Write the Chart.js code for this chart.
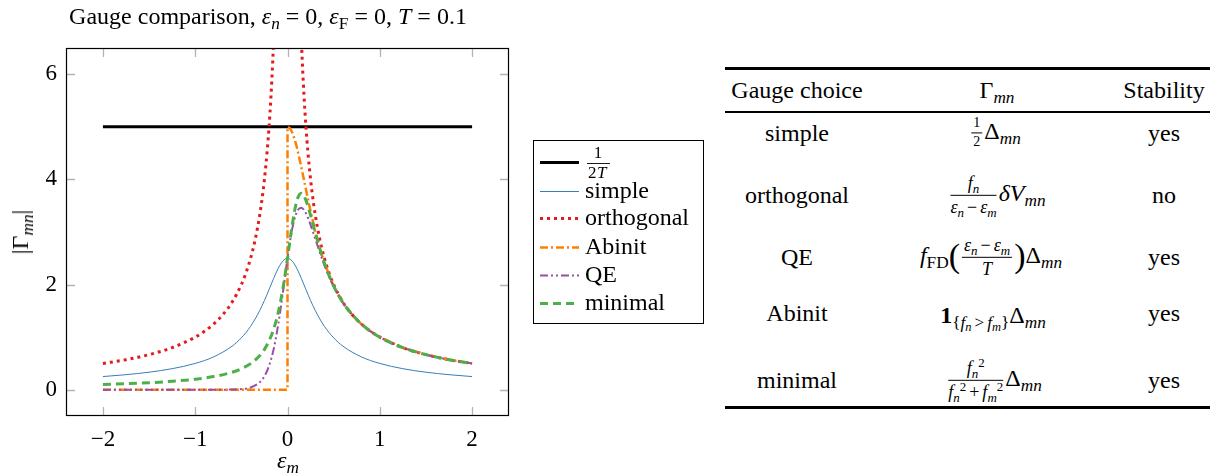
<!DOCTYPE html>
<html>
<head>
<meta charset="utf-8">
<script src="https://cdn.jsdelivr.net/npm/chart.js@4.4.1/dist/chart.umd.min.js"></script>
<style>
  body { margin: 0; background: #fff; font-family: "Liberation Serif", serif; color: #000; }
  #wrap { position: relative; width: 1219px; height: 474px; overflow: hidden; }
  #c { position: absolute; left: 0; top: 0; }
  .t { position: absolute; white-space: nowrap; font-size: 24px; line-height: 1; }
  .c { transform: translate(-50%, -50%); }
  sub { font-size: 0.72em; vertical-align: -0.3em; line-height: 0; }
  sup { font-size: 0.72em; vertical-align: 0.5em; line-height: 0; }
  .frac { display: inline-flex; flex-direction: column; vertical-align: middle; text-align: center; font-size: 18px; line-height: 1.15; margin: 0 2px; }
  .frac > span:first-child { border-bottom: 1px solid #000; padding: 0 2px 1px; }
  .frac > span:last-child { padding-top: 1px; }
  .op { margin: 0 3px; }
  .big { font-size: 34px; vertical-align: -4px; }
  .rule { position: absolute; left: 725px; width: 485px; background: #000; }
</style>
</head>
<body>
<div id="wrap">
  <canvas id="c" width="720" height="474"></canvas>

  <div class="t c" style="left:268px; top:16px;">Gauge comparison, <i>ε</i><sub><i>n</i></sub> = 0, <i>ε</i><sub>F</sub> = 0, <i>T</i> = 0.1</div>
  <div class="t c" style="left:288px; top:460px;"><i>ε</i><sub><i>m</i></sub></div>
  <div class="t c" style="left:20px; top:232px; transform: translate(-50%, -50%) rotate(-90deg);">|Γ<sub><i>mn</i></sub>|</div>

  <div class="rule" style="top:67px; height:2.5px;"></div>
  <div class="rule" style="top:111px; height:1.5px;"></div>
  <div class="rule" style="top:406px; height:2.5px;"></div>

  <div class="t c" style="left:797px; top:90px;">Gauge choice</div>
  <div class="t c" style="left:997px; top:90px;">Γ<sub><i>mn</i></sub></div>
  <div class="t c" style="left:1164px; top:90px;">Stability</div>

  <div class="t c" style="left:797px; top:133px;">simple</div>
  <div class="t c" style="left:995px; top:133px;"><span class="frac" style="font-size:14px"><span>1</span><span>2</span></span>Δ<sub><i>mn</i></sub></div>
  <div class="t c" style="left:1164px; top:133px;">yes</div>

  <div class="t c" style="left:797px; top:195px;">orthogonal</div>
  <div class="t c" style="left:997px; top:195px;"><span class="frac"><span><i>f</i><sub><i>n</i></sub></span><span><i>ε</i><sub><i>n</i></sub><span class="op">−</span><i>ε</i><sub><i>m</i></sub></span></span><i>δV</i><sub><i>mn</i></sub></div>
  <div class="t c" style="left:1164px; top:195px;">no</div>

  <div class="t c" style="left:797px; top:257px;">QE</div>
  <div class="t c" style="left:991px; top:257px;"><i>f</i><sub>FD</sub><span class="big">(</span><span class="frac"><span><i>ε</i><sub><i>n</i></sub><span class="op">−</span><i>ε</i><sub><i>m</i></sub></span><span><i>T</i></span></span><span class="big">)</span>Δ<sub><i>mn</i></sub></div>
  <div class="t c" style="left:1164px; top:257px;">yes</div>

  <div class="t c" style="left:797px; top:313px;">Abinit</div>
  <div class="t c" style="left:993px; top:315px;"><b>1</b><sub>{<i>f</i><sub><i>n</i></sub><span class="op">&gt;</span><i>f</i><sub><i>m</i></sub>}</sub>Δ<sub><i>mn</i></sub></div>
  <div class="t c" style="left:1164px; top:313px;">yes</div>

  <div class="t c" style="left:797px; top:380px;">minimal</div>
  <div class="t c" style="left:994px; top:380px;"><span class="frac"><span><i>f</i><sub><i>n</i></sub><sup>2</sup></span><span><i>f</i><sub><i>n</i></sub><sup>2</sup><span class="op">+</span><i>f</i><sub><i>m</i></sub><sup>2</sup></span></span>Δ<sub><i>mn</i></sub></div>
  <div class="t c" style="left:1164px; top:380px;">yes</div>
</div>

<script>
// axis ticks
const xTicks = [-2, -1, 0, 1, 2];
const yTicks = [0, 2, 4, 6];

// energies eps_m shared by the smooth curves
const epsGrid = [-2, -1.75, -1.5, -1.25, -1, -0.8, -0.6, -0.5, -0.4, -0.3, -0.25, -0.2, -0.15, -0.1, -0.05,
                 0, 0.05, 0.1, 0.15, 0.2, 0.25, 0.3, 0.4, 0.5, 0.6, 0.8, 1, 1.25, 1.5, 1.75, 2];

const simpleVals = [0.25, 0.286, 0.333, 0.4, 0.5, 0.625, 0.829, 0.987, 1.205, 1.509, 1.697, 1.904, 2.117, 2.311, 2.449,
                    2.5, 2.449, 2.311, 2.117, 1.904, 1.697, 1.509, 1.205, 0.987, 0.829, 0.625, 0.5, 0.4, 0.333, 0.286, 0.25];
const qeVals = [0, 0, 0, 0, 0, 0.0004, 0.004, 0.013, 0.043, 0.143, 0.257, 0.454, 0.772, 1.243, 1.849,
                2.5, 3.049, 3.378, 3.462, 3.354, 3.136, 2.874, 2.367, 1.96, 1.655, 1.249, 1.0, 0.8, 0.667, 0.571, 0.5];
const minimalVals = [0.1, 0.114, 0.133, 0.16, 0.2, 0.25, 0.333, 0.399, 0.496, 0.652, 0.768, 0.928, 1.152, 1.473, 1.921,
                     2.5, 3.12, 3.585, 3.737, 3.603, 3.317, 2.99, 2.407, 1.973, 1.659, 1.249, 1.0, 0.8, 0.667, 0.571, 0.5];

const abinitX = [-2, -1, 0, 0, 0.025, 0.05, 0.075, 0.1, 0.15, 0.2, 0.25, 0.3, 0.35, 0.4, 0.5, 0.6, 0.7, 0.8, 0.9, 1, 1.25, 1.5, 1.75, 2];
const abinitVals = [0, 0, 0, 5, 4.974, 4.898, 4.778, 4.621, 4.234, 3.808, 3.393, 3.017, 2.69, 2.41, 1.973, 1.659, 1.426, 1.249, 1.111, 1.0, 0.8, 0.667, 0.571, 0.5];

const orthoX = [-2, -1.75, -1.5, -1.25, -1, -0.9, -0.8, -0.7, -0.6, -0.5, -0.45, -0.4, -0.35, -0.3, -0.27, -0.25, -0.22, -0.2, -0.18, -0.16, -0.14, -0.12,
                0, 0.12, 0.14, 0.16, 0.18, 0.2, 0.22, 0.25, 0.27, 0.3, 0.35, 0.4, 0.45, 0.5, 0.6, 0.7, 0.8, 0.9, 1, 1.25, 1.5, 1.75, 2];
const orthoVals = [0.5, 0.571, 0.667, 0.8, 1, 1.111, 1.25, 1.429, 1.667, 2, 2.222, 2.5, 2.857, 3.333, 3.704, 4, 4.545, 5, 5.556, 6.25, 7.143, 8.333,
                   null, 8.333, 7.143, 6.25, 5.556, 5, 4.545, 4, 3.704, 3.333, 2.857, 2.5, 2.222, 2, 1.667, 1.429, 1.25, 1.111, 1, 0.8, 0.667, 0.571, 0.5];

const halfTX = [-2, 2];
const halfTVals = [5, 5];

function pts(xs, ys) {
    return xs.map((x, i) => ({ x: x, y: ys[i] }));
}

const serif = '"Liberation Serif", serif';

const datasets = [
    { label: '1/2T', data: pts(halfTX, halfTVals), borderColor: '#000000', borderWidth: 3, order: 6 },
    { label: 'simple', data: pts(epsGrid, simpleVals), borderColor: '#377eb8', borderWidth: 1, order: 5, cubicInterpolationMode: 'monotone' },
    { label: 'orthogonal', data: pts(orthoX, orthoVals), borderColor: '#e41a1c', borderWidth: 3, borderDash: [3, 4], order: 4, cubicInterpolationMode: 'monotone' },
    { label: 'Abinit', data: pts(abinitX, abinitVals), borderColor: '#ff7f00', borderWidth: 2.5, borderDash: [8, 3, 2, 3], order: 3, tension: 0 },
    { label: 'QE', data: pts(epsGrid, qeVals), borderColor: '#984ea3', borderWidth: 2, borderDash: [8, 3, 2, 3, 2, 3], order: 2, cubicInterpolationMode: 'monotone' },
    { label: 'minimal', data: pts(epsGrid, minimalVals), borderColor: '#4daf4a', borderWidth: 3, borderDash: [8, 5], order: 1, cubicInterpolationMode: 'monotone' }
];
datasets.forEach(d => { d.pointRadius = 0; d.fill = false; d.spanGaps = false; });

// inward grey ticks on all four sides plus the black frame
const framePlugin = {
    id: 'frame',
    afterDatasetsDraw(chart) {
        const { ctx, chartArea: a, scales } = chart;
        ctx.save();
        ctx.strokeStyle = '#b3b3b3';
        ctx.lineWidth = 1.3;
        ctx.setLineDash([]);
        ctx.beginPath();
        xTicks.forEach(v => {
            const px = Math.round(scales.x.getPixelForValue(v)) + 0.5;
            ctx.moveTo(px, a.bottom); ctx.lineTo(px, a.bottom - 9);
            ctx.moveTo(px, a.top); ctx.lineTo(px, a.top + 9);
        });
        yTicks.forEach(v => {
            const py = Math.round(scales.y.getPixelForValue(v)) + 0.5;
            ctx.moveTo(a.left, py); ctx.lineTo(a.left + 9, py);
            ctx.moveTo(a.right, py); ctx.lineTo(a.right - 9, py);
        });
        ctx.stroke();
        ctx.strokeStyle = '#000';
        ctx.lineWidth = 1.2;
        ctx.strokeRect(a.left + 0.5, a.top + 0.5, a.right - a.left - 1, a.bottom - a.top - 1);
        ctx.restore();
    }
};

// legend box drawn beside the plot
const legendPlugin = {
    id: 'sideLegend',
    afterDraw(chart) {
        const ctx = chart.ctx;
        const rows = [162, 191, 218, 247, 275, 303];
        ctx.save();
        ctx.fillStyle = '#fff';
        ctx.fillRect(533, 140, 170, 183);
        ctx.strokeStyle = '#000';
        ctx.lineWidth = 1;
        ctx.strokeRect(533.5, 140.5, 170, 183);
        chart.data.datasets.forEach((d, i) => {
            const y = rows[i];
            ctx.strokeStyle = d.borderColor;
            ctx.lineWidth = d.borderWidth;
            ctx.setLineDash(d.borderDash || []);
            ctx.beginPath();
            ctx.moveTo(540, y + 0.5);
            ctx.lineTo(579, y + 0.5);
            ctx.stroke();
            ctx.setLineDash([]);
            ctx.fillStyle = '#000';
            if (i === 0) {
                ctx.font = '17px ' + serif;
                ctx.textAlign = 'center';
                ctx.textBaseline = 'middle';
                ctx.fillText('1', 598, 154);
                ctx.lineWidth = 0.9;
                ctx.strokeStyle = '#000';
                ctx.beginPath();
                ctx.moveTo(587, 163.5);
                ctx.lineTo(610, 163.5);
                ctx.stroke();
                ctx.textAlign = 'left';
                ctx.fillText('2', 588, 174);
                ctx.font = 'italic 17px ' + serif;
                ctx.fillText('T', 597, 174);
            } else {
                ctx.font = '24px ' + serif;
                ctx.textAlign = 'left';
                ctx.textBaseline = 'middle';
                ctx.fillText(d.label, 585, y + 1);
            }
        });
        ctx.restore();
    }
};

new Chart(document.getElementById('c'), {
    type: 'line',
    data: { datasets: datasets },
    options: {
        responsive: false,
        animation: false,
        devicePixelRatio: 1,
        layout: { padding: { top: 48, right: 211, left: 0, bottom: 0 } },
        plugins: { legend: { display: false }, tooltip: { enabled: false } },
        scales: {
            x: {
                type: 'linear',
                min: -2.4,
                max: 2.4,
                grid: { display: false, drawTicks: false },
                border: { display: false },
                afterBuildTicks: s => { s.ticks = xTicks.map(v => ({ value: v })); },
                afterFit: s => { s.height = 58; },
                ticks: {
                    color: '#000',
                    padding: 10,
                    maxRotation: 0,
                    font: { family: serif, size: 23 },
                    callback: v => (v < 0 ? '\u2212' + Math.abs(v) : String(v))
                }
            },
            y: {
                type: 'linear',
                min: -0.5,
                max: 6.5,
                grid: { display: false, drawTicks: false },
                border: { display: false },
                afterBuildTicks: s => { s.ticks = yTicks.map(v => ({ value: v })); },
                afterFit: s => { s.width = 66; },
                ticks: {
                    color: '#000',
                    padding: 9,
                    font: { family: serif, size: 23 },
                    callback: v => String(v)
                }
            }
        }
    },
    plugins: [framePlugin, legendPlugin]
});
</script>
</body>
</html>
